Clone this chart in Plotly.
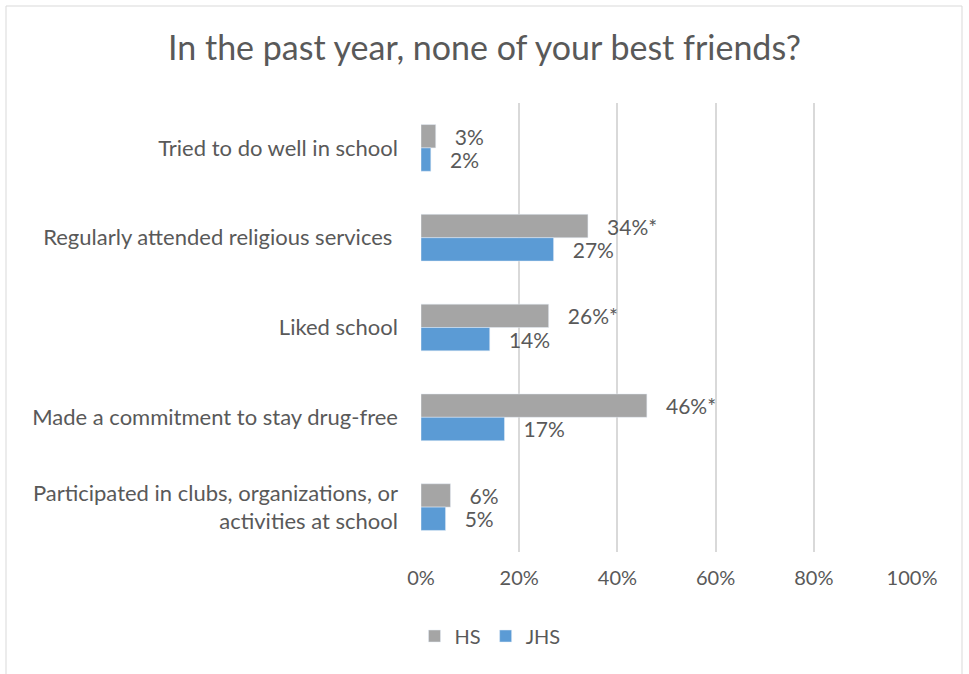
import plotly.graph_objects as go

# Survey items, top to bottom
categories = [
    "Tried to do well in school",
    "Regularly attended religious services ",
    "Liked school",
    "Made a commitment to stay drug-free",
    "Participated in clubs, organizations, or<br>activities at school",
]
hs_values = [3, 34, 26, 46, 6]
jhs_values = [2, 27, 14, 17, 5]
hs_significant = [False, True, True, True, False]
x_ticks = [0, 20, 40, 60, 80, 100]

TEXT = "#595959"
FONT = "Lato, 'Open Sans', sans-serif"

hs_text = ["   " + f"{v}%" + ("*" if s else "") for v, s in zip(hs_values, hs_significant)]
jhs_text = ["   " + f"{v}%" for v in jhs_values]

fig = go.Figure()
fig.add_trace(go.Bar(
    name="HS", y=categories, x=hs_values, orientation="h",
    marker=dict(color="#A5A5A5"), text=hs_text, textposition="outside",
    constraintext="none",
    textfont=dict(size=21, color=TEXT), cliponaxis=False,
))
fig.add_trace(go.Bar(
    name="JHS", y=categories, x=jhs_values, orientation="h",
    marker=dict(color="#5B9BD5"), text=jhs_text, textposition="outside",
    constraintext="none",
    textfont=dict(size=21, color=TEXT), cliponaxis=False,
))

L, R, T, B = 421, 57, 103, 122
W, H = 969, 674
pw, ph = W - L - R, H - T - B

fig.update_layout(
    width=W, height=H,
    margin=dict(l=L, r=R, t=T, b=B),
    paper_bgcolor="white", plot_bgcolor="white",
    font=dict(family=FONT, color=TEXT),
    barmode="group", bargap=0.48, bargroupgap=0,
    title=dict(text="In the past year, none of your best friends?",
               x=0.5, xanchor="center", y=1 - 48 / H, yanchor="middle",
               font=dict(size=34, color=TEXT, family=FONT)),
    xaxis=dict(range=[0, 100], tickvals=x_ticks,
               ticktext=[f"{v}%" for v in x_ticks],
               showgrid=True, gridcolor="#D9D9D9", gridwidth=2,
               zeroline=False, showline=False,
               tickfont=dict(size=20, color=TEXT), ticks="",
               ticklabelstandoff=12),
    yaxis=dict(autorange="reversed", showgrid=False, zeroline=False,
               showline=False, ticks="",
               tickfont=dict(size=22, color=TEXT), ticklabelstandoff=22),
    legend=dict(orientation="h", x=(490 - L) / pw, xanchor="center",
                y=-(636 - (T + ph)) / ph, yanchor="middle",
                font=dict(size=20, color=TEXT), itemwidth=30,
                traceorder="normal"),
    showlegend=True,
)

# Outer chart frame
fig.add_shape(type="rect", xref="paper", yref="paper",
              x0=(6 - L) / pw, x1=(962 - L) / pw,
              y0=-(H + 5 - T - ph) / ph, y1=1 + (T - 6) / ph,
              line=dict(color="#D9D9D9", width=1), fillcolor="rgba(0,0,0,0)",
              layer="below")

fig.write_html("out.html")
